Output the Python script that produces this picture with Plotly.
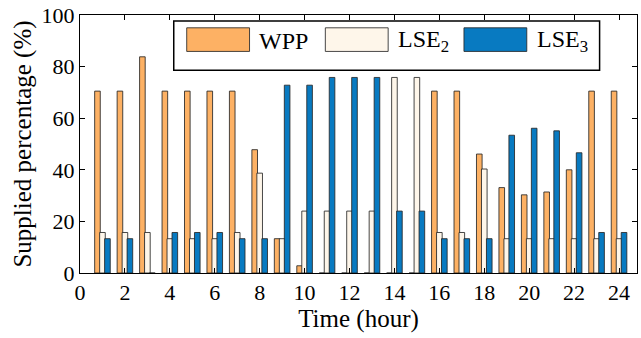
import plotly.graph_objects as go

# Hourly supplied percentage per participant
hours = list(range(1, 25))
wpp = [70.5, 70.5, 83.8, 70.5, 70.5, 70.5, 70.5, 47.8, 13.3, 2.8, 0, 0,
       0, 0, 0, 70.5, 70.5, 46.1, 33.1, 30.3, 31.4, 40.0, 70.5, 70.5]
lse2 = [15.7, 15.7, 15.7, 13.3, 13.3, 13.3, 15.7, 38.7, 13.3, 24.0, 24.0, 24.0,
        24.0, 75.8, 75.8, 15.7, 15.7, 40.3, 13.3, 13.3, 13.3, 13.3, 13.3, 13.3]
lse3 = [13.3, 13.3, 0, 15.7, 15.7, 15.7, 13.3, 13.3, 72.8, 72.8, 75.8, 75.8,
        75.8, 24.0, 24.0, 13.3, 13.3, 13.3, 53.4, 56.1, 55.1, 46.6, 15.7, 15.7]

series_names = ["WPP", "LSE<sub>2</sub>", "LSE<sub>3</sub>"]
series_vals = [wpp, lse2, lse3]
colors = ["#FDB164", "#FEF6EA", "#087AC1"]
offsets = [-0.347, -0.125, 0.097]
bar_w = 0.25

FONT = "Liberation Serif"

fig = go.Figure()
for name, vals, col, off in zip(series_names, series_vals, colors, offsets):
    fig.add_trace(go.Bar(
        x=hours, y=vals, name=name, width=bar_w, offset=off,
        marker=dict(color=col, line=dict(color="rgba(40,40,40,0.85)", width=1)),
        showlegend=False,
    ))

# Legend box drawn in paper coordinates
L, R, B, T = 80.0, 638.5, 273.0, 11.0
def px(xp):
    return (xp - L) / (R - L)
def py(yp):
    return (B - yp) / (B - T)

shapes = [dict(type="rect", xref="paper", yref="paper",
               x0=px(174), x1=px(601), y0=py(67), y1=py(17),
               line=dict(color="black", width=1.5), fillcolor="white", layer="above")]
annotations = []
swatch_x = [187, 326, 465]
text_x = [257, 397, 536]
for sx, tx, col, name in zip(swatch_x, text_x, colors, series_names):
    shapes.append(dict(type="rect", xref="paper", yref="paper",
                       x0=px(sx), x1=px(sx + 63), y0=py(48), y1=py(24),
                       line=dict(color="rgba(40,40,40,0.85)", width=1),
                       fillcolor=col, layer="above"))
    annotations.append(dict(xref="paper", yref="paper", x=px(tx), y=py(37),
                            text=name, showarrow=False, xanchor="left", yanchor="middle",
                            font=dict(family=FONT, size=24, color="black")))

tick_font = dict(family=FONT, size=22, color="black")
title_font = dict(family=FONT, size=25, color="black")

fig.update_layout(
    barmode="overlay",
    width=641, height=338,
    margin=dict(l=80, r=2.5, t=11, b=65),
    paper_bgcolor="white", plot_bgcolor="white",
    font=dict(family=FONT, size=22, color="black"),
    shapes=shapes, annotations=annotations,
)
fig.update_xaxes(
    range=[0, 24.8], tickmode="array", tickvals=list(range(0, 25, 2)),
    ticks="inside", ticklen=5, tickcolor="black", showline=True, linecolor="black",
    linewidth=1, mirror="ticks", showgrid=False, zeroline=False,
    tickfont=tick_font, ticklabeloverflow="allow",
    title=dict(text="Time (hour)", font=title_font, standoff=4),
)
fig.update_yaxes(
    range=[0, 100], tickmode="array", tickvals=list(range(0, 101, 20)),
    ticks="inside", ticklen=5, tickcolor="black", showline=True, linecolor="black",
    linewidth=1, mirror="ticks", showgrid=False, zeroline=False,
    tickfont=tick_font, ticklabeloverflow="allow",
    title=dict(text="Supplied percentage (%)", font=title_font, standoff=2),
)

fig.write_html("out.html")
